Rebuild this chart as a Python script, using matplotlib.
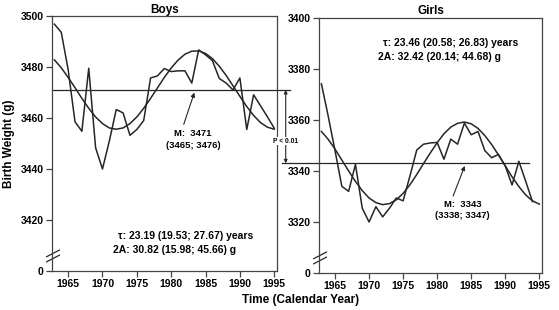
import matplotlib
matplotlib.use("Agg")
import matplotlib.pyplot as plt

plt.rcParams['font.family'] = ['Liberation Sans', 'DejaVu Sans']
plt.rcParams['font.weight'] = 'bold'
plt.rcParams['axes.labelweight'] = 'bold'

years_raw_b = list(range(1963, 1996))
years_raw_g = list(range(1963, 1995))
years_fit = list(range(1963, 1996))

boys_raw = [3496.8, 3493.6, 3479.0, 3458.5, 3454.8, 3479.5, 3448.3, 3440.0, 3451.0,
            3463.3, 3462.0, 3453.2, 3455.5, 3459.0, 3475.7, 3476.5, 3479.4, 3478.2,
            3478.5, 3478.5, 3473.7, 3486.7, 3484.8, 3482.5, 3475.5, 3473.7, 3471.0,
            3475.7, 3455.5, 3469.1, 3464.8, 3460.5, 3456.0]
boys_fit = [3482.8, 3479.7, 3475.9, 3471.9, 3467.7, 3463.8, 3460.4, 3457.8, 3456.1,
            3455.6, 3456.1, 3457.8, 3460.4, 3463.8, 3467.7, 3471.8, 3475.9, 3479.6,
            3482.7, 3485.0, 3486.2, 3486.3, 3485.3, 3483.3, 3480.3, 3476.7, 3472.6,
            3468.5, 3464.5, 3461.0, 3458.2, 3456.4, 3455.6]

girls_raw = [3374.2, 3361.5, 3348.0, 3334.0, 3332.0, 3342.6, 3325.4, 3320.0, 3326.0,
             3322.0, 3325.4, 3329.4, 3328.3, 3338.0, 3348.2, 3350.5, 3351.0, 3351.2,
             3344.6, 3352.5, 3350.5, 3358.8, 3354.2, 3355.5, 3348.0, 3345.2, 3346.5,
             3342.0, 3334.5, 3343.8, 3336.0, 3328.0]
girls_fit = [3355.5, 3352.4, 3348.6, 3344.3, 3340.0, 3335.9, 3332.3, 3329.4, 3327.6,
             3326.8, 3327.2, 3328.7, 3331.2, 3334.6, 3338.6, 3342.9, 3347.1, 3351.1,
             3354.6, 3357.2, 3358.7, 3359.2, 3358.5, 3356.7, 3353.9, 3350.4, 3346.3,
             3342.0, 3337.7, 3333.9, 3330.6, 3328.3, 3327.0]

boys_mean = 3471
girls_mean = 3343
xticks = [1965, 1970, 1975, 1980, 1985, 1990, 1995]
boys_yticks = [3400, 3420, 3440, 3460, 3480, 3500]
boys_ylabels = ['0', '3420', '3440', '3460', '3480', '3500']
girls_yticks = [3300, 3320, 3340, 3360, 3380, 3400]
girls_ylabels = ['0', '3320', '3340', '3360', '3380', '3400']

col = '#262626'
fig = plt.figure(figsize=(5.59, 3.10), dpi=100)
ax1 = fig.add_axes([0.0930, 0.1258, 0.4025, 0.8226])
ax2 = fig.add_axes([0.5707, 0.1194, 0.3989, 0.8226])

for ax, yt, yl, ylim in [(ax1, boys_yticks, boys_ylabels, (3400, 3500)),
                         (ax2, girls_yticks, girls_ylabels, (3300, 3400))]:
    ax.set_xlim(1962.65, 1995.4)
    ax.set_ylim(*ylim)
    ax.set_xticks(xticks)
    ax.set_yticks(yt)
    ax.set_yticklabels(yl)
    ax.tick_params(labelsize=7.5, length=4, width=0.9, color='#444444', pad=2)
    for s in ax.spines.values():
        s.set_linewidth(0.9)
        s.set_color('#444444')
    # axis break marks
    for y0 in (0.036, 0.056):
        ax.plot([-0.024, 0.033], [y0, y0 + 0.026], color=col, lw=0.9,
                transform=ax.transAxes, clip_on=False)

ax1.plot(years_raw_b, boys_raw, color=col, lw=1.1)
ax1.plot(years_fit, boys_fit, color=col, lw=1.1)
ax1.plot([1962.65, 1997.3], [boys_mean, boys_mean], color=col, lw=0.9, clip_on=False)

ax2.plot(years_raw_g, girls_raw, color=col, lw=1.1)
ax2.plot(years_fit, girls_fit, color=col, lw=1.1)
ax2.plot([1957.25, 1993.5], [girls_mean, girls_mean], color=col, lw=0.9, clip_on=False)

ax1.set_title('Boys', fontsize=8.5, fontweight='bold', pad=2)
ax2.set_title('Girls', fontsize=8.5, fontweight='bold', pad=3)
ax1.set_ylabel('Birth Weight (g)', fontsize=8.5, fontweight='bold', labelpad=4)
fig.text(0.537, 0.032, 'Time (Calendar Year)', ha='center', va='center',
         fontsize=8.5, fontweight='bold')

# mean annotations
ax1.annotate('', xy=(1983.5, boys_mean), xytext=(1981.7, 3456.5),
             arrowprops=dict(arrowstyle='-|>', color=col, lw=0.8, mutation_scale=6))
ax1.text(1983.2, 3454.0, 'M:  3471', ha='center', va='center', fontsize=6.8)
ax1.text(1983.2, 3449.3, '(3465; 3476)', ha='center', va='center', fontsize=6.8)

ax2.annotate('', xy=(1984.2, girls_mean), xytext=(1982.2, 3329.2),
             arrowprops=dict(arrowstyle='-|>', color=col, lw=0.8, mutation_scale=6))
ax2.text(1983.7, 3326.8, 'M:  3343', ha='center', va='center', fontsize=6.8)
ax2.text(1983.7, 3322.4, '(3338; 3347)', ha='center', va='center', fontsize=6.8)

# parameter text
ax1.text(1972.3, 3413.7, 'τ: 23.19 (19.53; 27.67) years', ha='left', va='center', fontsize=7.5)
ax1.text(1971.55, 3408.3, '2A: 30.82 (15.98; 45.66) g', ha='left', va='center', fontsize=7.5)
ax2.text(1972.0, 3390.2, 'τ: 23.46 (20.58; 26.83) years', ha='left', va='center', fontsize=7.5)
ax2.text(1971.3, 3384.7, '2A: 32.42 (20.14; 44.68) g', ha='left', va='center', fontsize=7.5)

# significance arrow between the two means
ax1.annotate('', xy=(1996.67, boys_mean), xycoords=ax1.transData,
             xytext=(1957.76, girls_mean), textcoords=ax2.transData,
             arrowprops=dict(arrowstyle='<|-|>', color=col, lw=0.8,
                             mutation_scale=5, shrinkA=0, shrinkB=0))
fig.text(0.5107, 0.545, 'P < 0.01', ha='center', va='center', fontsize=4.8,
         bbox=dict(facecolor='white', edgecolor='none', pad=0.6))

fig.savefig('out.png', dpi=100)
